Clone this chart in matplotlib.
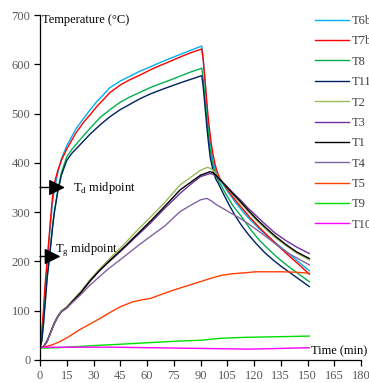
import matplotlib
matplotlib.use("Agg")
import matplotlib.pyplot as plt

# ---- data ----
t_t6b = [0, 1, 2, 3, 4, 5, 6, 7, 8, 10, 12, 15, 17, 20, 25, 28, 32, 36, 39, 45, 50, 56, 62, 67, 73, 80, 85, 90.7,
         91.5, 92.5, 93.5, 94.5, 96, 97, 98, 99, 100, 101, 102.3, 106, 110, 114, 118, 123, 128, 133, 138, 144, 151]
v_t6b = [25, 50, 95, 150, 195, 240, 280, 318, 345, 380, 408, 435, 448, 468, 493, 507, 525, 540, 552, 566, 575, 586, 595, 603, 612, 622, 629, 637,
         612, 565, 515, 470, 426, 405, 390, 378, 370, 364, 358, 338, 318, 300, 284, 266, 250, 235, 220, 202, 181]

t_t7b = [0, 1, 2, 3, 4, 5, 6, 7, 8, 10, 12, 15, 20, 25, 28, 32, 36, 39, 45, 50, 56, 62, 67, 73, 80, 85, 90.7,
         91.5, 92.5, 93.5, 94.5, 96, 97, 98, 99, 100, 101, 102.8, 106, 110, 114, 118, 123, 128, 134, 140, 146, 151]
v_t7b = [25, 55, 105, 160, 200, 245, 290, 330, 358, 385, 405, 428, 460, 485, 497, 515, 530, 542, 558, 568, 578, 589, 597, 606, 617, 624, 631,
         610, 570, 525, 485, 440, 418, 400, 386, 376, 368, 358, 341, 322, 305, 288, 269, 251, 230, 210, 191, 174]

t_t8 = [0, 1, 2, 3, 4, 5, 6, 7, 8, 10, 12, 15, 18, 22, 28, 34, 40, 45, 50, 56, 62, 67, 73, 80, 85, 90.7,
        91.5, 92.5, 93.5, 94.5, 95.5, 97, 98, 99, 100, 101, 104, 108, 113, 118, 123, 128, 134, 140, 146, 151]
v_t8 = [25, 40, 80, 125, 170, 200, 235, 270, 300, 345, 380, 412, 428, 445, 470, 493, 510, 523, 533, 543, 553, 560, 568, 578, 585, 592,
        570, 530, 490, 455, 425, 395, 382, 372, 364, 358, 338, 314, 291, 265, 243, 225, 205, 188, 172, 159]

t_t11 = [0, 1, 2, 3, 4, 5, 6, 7, 8, 10, 12, 15, 18, 22, 28, 34, 39, 45, 50, 56, 62, 67, 73, 80, 85, 90.7,
         91.5, 92.5, 93.5, 94.5, 95.5, 97, 98.5, 100, 103, 106, 109.4, 113, 117, 121, 126, 131, 136, 141, 146, 151]
v_t11 = [25, 38, 75, 120, 165, 198, 232, 268, 298, 342, 375, 405, 420, 435, 458, 478, 493, 508, 518, 530, 540, 547, 555, 564, 570, 577,
         555, 515, 475, 440, 410, 385, 368, 358, 336, 315, 293, 273, 254, 237, 218, 202, 188, 175, 162, 149]

t_t2 = [0, 2, 4, 6, 8, 10, 12, 15, 18, 23, 28, 33, 38, 43, 48, 55, 62, 70, 78.5, 85, 90, 94,
        96, 98, 100, 103, 107, 112, 117, 122, 127, 132, 138, 144, 151]
v_t2 = [25, 28, 40, 58, 76, 90, 100, 108, 120, 140, 163, 183, 202, 220, 238, 265, 290, 320, 355, 372, 385, 391,
        388, 381, 372, 358, 340, 320, 300, 281, 264, 248, 232, 217, 203]

t_t3 = [0, 2, 4, 6, 8, 10, 12, 15, 18, 23, 28, 33, 38, 43, 48, 55, 62, 70, 78.5, 85, 90, 95,
        97, 99, 101, 104, 108, 112, 117, 122, 127, 132, 138, 144, 151]
v_t3 = [25, 27, 38, 56, 74, 88, 98, 106, 118, 137, 160, 180, 197, 213, 230, 254, 278, 308, 338, 358, 372, 378,
        377, 372, 365, 355, 340, 326, 307, 290, 273, 257, 242, 229, 216]

t_t1 = [0, 2, 4, 6, 8, 10, 12, 15, 18, 23, 28, 33, 38, 43, 48, 55, 62, 70, 78.5, 85, 90, 95.3,
        97, 99, 101, 104, 108, 112, 117, 122, 127, 132, 138, 144, 151]
v_t1 = [25, 27, 38, 56, 74, 88, 98, 106, 118, 137, 160, 180, 198, 215, 232, 257, 282, 312, 345, 362, 375, 382,
        380, 374, 366, 354, 338, 323, 303, 284, 267, 251, 234, 219, 206]

t_t4 = [0, 2, 4, 6, 8, 10, 12, 15, 18, 23, 28, 33, 38, 43, 48, 55, 62, 70, 78.5, 85, 90, 93.5,
        96, 99, 102.8, 107, 112, 117, 122, 128, 134, 140, 146, 151]
v_t4 = [25, 27, 38, 56, 74, 88, 98, 105, 116, 133, 152, 168, 184, 198, 212, 232, 251, 272, 301, 315, 325, 328,
        323, 315, 307, 298, 288, 276, 263, 247, 230, 215, 203, 193]

t_t5 = [0, 3, 7, 11, 16, 22, 28, 34, 40, 45, 52, 57, 62, 68, 75, 82, 90, 96, 102, 108, 115, 121, 128, 136, 144, 151]
v_t5 = [25, 27, 31, 37, 47, 61, 73, 85, 98, 108, 118, 122, 125, 133, 142, 150, 159, 166, 172, 175, 177, 179, 179, 179, 178, 176]

t_t9 = [0, 10, 20, 34, 45, 60, 78.5, 90, 101, 115, 130, 151]
v_t9 = [24, 25, 27, 30, 32, 35, 38.5, 40, 44, 46, 47, 48.5]

t_t10 = [0, 20, 40, 60, 80, 100, 116, 130, 151]
v_t10 = [26, 26, 26, 25, 24, 23, 22, 23, 25]

series = [
    ("T6b", t_t6b, v_t6b, "#00B0F0"),
    ("T7b", t_t7b, v_t7b, "#FF0000"),
    ("T8", t_t8, v_t8, "#00B050"),
    ("T11", t_t11, v_t11, "#002060"),
    ("T2", t_t2, v_t2, "#9BBB59"),
    ("T3", t_t3, v_t3, "#7030A0"),
    ("T1", t_t1, v_t1, "#000000"),
    ("T4", t_t4, v_t4, "#8064A2"),
    ("T5", t_t5, v_t5, "#FF4000"),
    ("T9", t_t9, v_t9, "#00E000"),
    ("T10", t_t10, v_t10, "#FF00FF"),
]

x_ticks = list(range(0, 181, 15))
y_ticks = list(range(0, 701, 100))

plt.rcParams['font.family'] = ['Liberation Serif', 'DejaVu Serif']

fig = plt.figure(figsize=(3.69, 3.83), dpi=100)
ax = fig.add_axes([40 / 369, 23 / 383, 321 / 369, 345 / 383])

for name, t, v, c in series:
    ax.plot(t, v, color=c, lw=1.0, label=name)

ax.set_xlim(0, 180)
ax.set_ylim(0, 700)
ax.set_xticks(x_ticks)
ax.set_yticks(y_ticks)
for s in ("top", "right"):
    ax.spines[s].set_visible(False)
ax.spines["left"].set_linewidth(0.9)
ax.spines["bottom"].set_linewidth(0.9)
ax.tick_params(direction="out", length=4, width=0.9, labelsize=9, labelcolor="#595959", pad=3)

ax.text(1, 690, "Temperature (°C)", fontsize=9, ha="left", va="center")
ax.text(152, 17, "Time (min)", fontsize=9, ha="left", va="center")

ap = dict(arrowstyle="-|>,head_length=0.7,head_width=0.35", color="black", lw=1.0, mutation_scale=14,
          shrinkA=0, shrinkB=0)
ax.annotate("", xy=(14, 350), xytext=(0, 350), arrowprops=ap, annotation_clip=False)
ax.annotate("", xy=(11.5, 210), xytext=(0, 210), arrowprops=ap, annotation_clip=False)
ax.text(18.5, 350, r"T$_\mathregular{d}$ midpoint", fontsize=9, ha="left", va="center")
ax.text(8.5, 225, r"T$_\mathregular{g}$ midpoint", fontsize=9, ha="left", va="center")

leg = fig.legend(loc="upper left", bbox_to_anchor=(310 / 369, 1 - 10 / 383), frameon=False, fontsize=9,
                 handlelength=2.7, labelspacing=0.67, handletextpad=0.25, borderaxespad=0)
for txt in leg.get_texts():
    txt.set_color("#404040")

fig.savefig("out.png", dpi=100)
